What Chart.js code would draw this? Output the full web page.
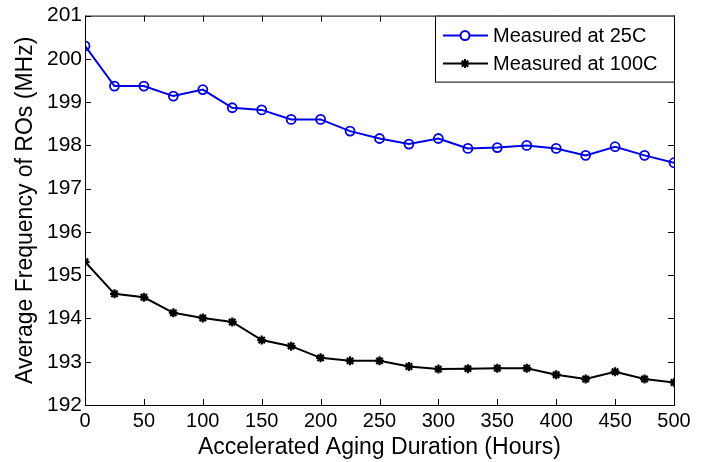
<!DOCTYPE html>
<html>
<head>
<meta charset="utf-8">
<script src="https://cdn.jsdelivr.net/npm/chart.js@4/dist/chart.umd.min.js"></script>
<style>
  html,body{margin:0;padding:0;background:#fff;}
  #wrap{width:707px;height:462px;}
</style>
</head>
<body>
<div id="wrap"><canvas id="c" width="707" height="462"></canvas></div>
<script>
// data
const hours = [0,25,50,75,100,125,150,175,200,225,250,275,300,325,350,375,400,425,450,475,500];
const at25C = [200.30,199.37,199.37,199.14,199.29,198.87,198.82,198.60,198.60,198.33,198.16,
               198.03,198.16,197.93,197.95,198.00,197.93,197.77,197.97,197.77,197.60];
const at100C = [195.31,194.57,194.49,194.13,194.01,193.92,193.50,193.36,193.09,193.02,193.02,
                192.89,192.83,192.84,192.85,192.85,192.70,192.60,192.77,192.60,192.52];
const seriesNames = ['Measured at 25C','Measured at 100C'];
const xTitle = 'Accelerated Aging Duration (Hours)';
const yTitle = 'Average Frequency of ROs (MHz)';

const FONT = 'Arial, "Liberation Sans", sans-serif';

// box round the plot with inward ticks on every side, plus the legend inside
const framePlugin = {
  id:'frame',
  afterDraw(chart){
    const {ctx, chartArea:a, scales:{x,y}} = chart;
    ctx.save();
    ctx.strokeStyle = '#000';
    ctx.lineWidth = 1;
    ctx.strokeRect(a.left+0.5, a.top+0.5, a.right-a.left, a.bottom-a.top);
    const tl = 6;
    ctx.beginPath();
    x.ticks.forEach(t=>{
      const px = Math.round(x.getPixelForValue(t.value))+0.5;
      ctx.moveTo(px,a.bottom); ctx.lineTo(px,a.bottom-tl);
      ctx.moveTo(px,a.top); ctx.lineTo(px,a.top+tl);
    });
    y.ticks.forEach(t=>{
      const py = Math.round(y.getPixelForValue(t.value))+0.5;
      ctx.moveTo(a.left,py); ctx.lineTo(a.left+tl,py);
      ctx.moveTo(a.right,py); ctx.lineTo(a.right-tl,py);
    });
    ctx.stroke();

    // legend
    const bx = 435, by = a.top, bw = a.right - bx, bh = 66;
    ctx.fillStyle = '#fff';
    ctx.fillRect(bx, by, bw, bh);
    ctx.strokeRect(bx+0.5, by+0.5, bw, bh);
    ctx.font = '20px ' + FONT;
    ctx.textBaseline = 'middle';
    chart.data.datasets.forEach((ds,i)=>{
      const cy = by + 20 + i*28;
      ctx.strokeStyle = ds.borderColor;
      ctx.lineWidth = 2;
      ctx.beginPath(); ctx.moveTo(443,cy); ctx.lineTo(488,cy); ctx.stroke();
      Chart.helpers.drawPoint(ctx,{pointStyle:ds.pointStyle,radius:ds.pointRadius,borderWidth:ds.pointBorderWidth||2},465,cy);
      ctx.fillStyle = '#000';
      ctx.fillText(ds.label, 493, cy+1);
    });
    ctx.restore();
  }
};

new Chart(document.getElementById('c'), {
  type:'line',
  data:{
    labels:hours,
    datasets:[
      { label:seriesNames[0], data:at25C, borderColor:'#0000e6', backgroundColor:'rgba(0,0,0,0)',
        borderWidth:2, pointStyle:'circle', pointRadius:4.5, pointBorderWidth:1.8,
        pointBorderColor:'#0000e6', pointBackgroundColor:'rgba(0,0,0,0)', tension:0 },
      { label:seriesNames[1], data:at100C, borderColor:'#000', backgroundColor:'#000',
        borderWidth:2, pointStyle:'star', pointRadius:4.5, pointBorderWidth:2.2,
        pointBorderColor:'#000', tension:0 }
    ]
  },
  options:{
    responsive:false,
    animation:false,
    layout:{padding:{top:12,right:33,left:0,bottom:0}},
    plugins:{legend:{display:false},tooltip:{enabled:false}},
    scales:{
      x:{
        type:'linear', min:0, max:500,
        afterFit(s){ s.height = 57; },
        grid:{display:false, drawTicks:false},
        border:{display:false},
        ticks:{stepSize:50, padding:4, color:'#000', font:{family:FONT,size:20}, maxRotation:0},
        title:{display:true, text:xTitle, color:'#000', font:{family:FONT,size:23}, padding:{top:0,bottom:1}}
      },
      y:{
        min:192, max:201,
        afterFit(s){ s.width = 85; },
        grid:{display:false, drawTicks:false},
        border:{display:false},
        ticks:{stepSize:1, padding:3, color:'#000', font:{family:FONT,size:21}},
        title:{display:true, text:yTitle, color:'#000', font:{family:FONT,size:23}, padding:{top:12,bottom:0}}
      }
    }
  },
  plugins:[framePlugin]
});
</script>
</body>
</html>
